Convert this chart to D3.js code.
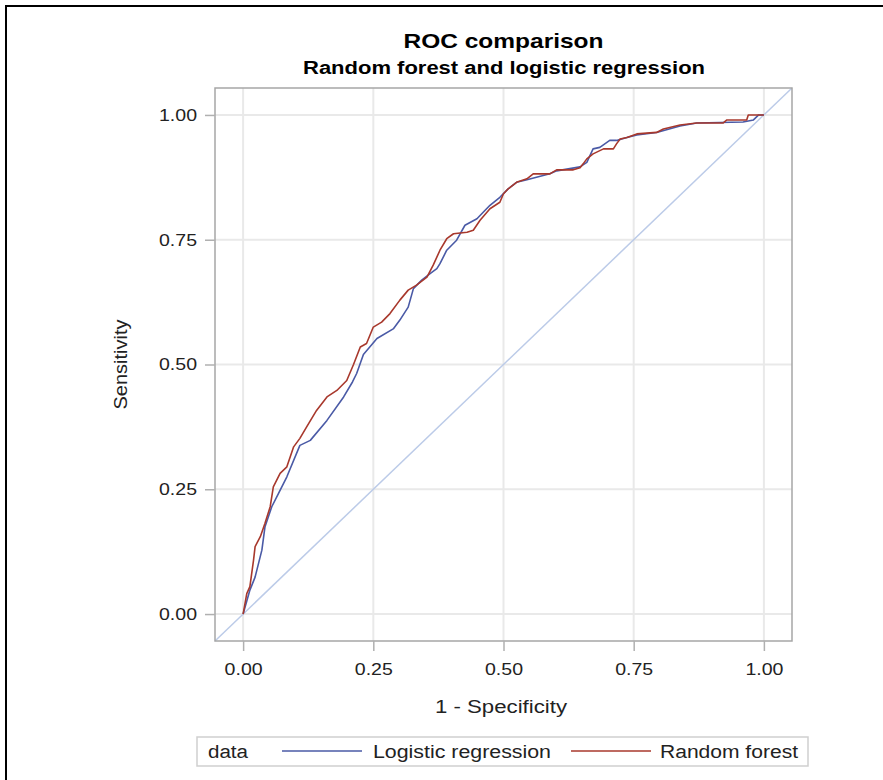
<!DOCTYPE html>
<html>
<head>
<meta charset="utf-8">
<script src="https://cdn.jsdelivr.net/npm/d3@7"></script>
<style>
  html, body { margin: 0; padding: 0; background: #fff; }
  svg { display: block; font-family: "Liberation Sans", Arial, sans-serif; }
</style>
</head>
<body>
<svg id="chart" width="883" height="780"></svg>
<script>
// ---- data ----
const titleText = "ROC comparison";
const subtitleText = "Random forest and logistic regression";
const xLabel = "1 - Specificity";
const yLabel = "Sensitivity";
const tickValues = [0, 0.25, 0.5, 0.75, 1];
const seriesNames = ["Logistic regression", "Random forest"];
const legendTitle = "data";

const logisticFpr = [0, .013, .023, .036, .042, .055, .068, .084, .109, .129, .161, .193, .21, .218, .231, .257, .289, .301, .317, .327, .343, .359, .372, .378, .391, .410, .426, .449, .461, .474, .493, .509, .525, .545, .589, .602, .647, .660, .672, .685, .704, .717, .737, .756, .794, .839, .871, .96, .98, .99, 1];
const logisticTpr = [0, .048, .074, .128, .175, .215, .242, .275, .338, .348, .388, .435, .465, .482, .52, .552, .572, .589, .615, .652, .669, .682, .692, .702, .729, .749, .779, .792, .805, .819, .835, .852, .865, .870, .882, .888, .896, .905, .932, .935, .949, .949, .955, .960, .965, .978, .984, .986, .99, 1, 1];

const forestFpr = [0, .007, .013, .020, .023, .033, .042, .052, .058, .071, .084, .097, .109, .122, .141, .161, .180, .199, .212, .225, .237, .250, .266, .282, .301, .317, .333, .353, .365, .378, .391, .404, .430, .442, .455, .474, .493, .500, .509, .525, .545, .557, .589, .602, .634, .647, .653, .660, .672, .692, .711, .717, .724, .737, .756, .794, .807, .839, .871, .922, .929, .967, .970, 1];
const forestTpr = [0, .041, .055, .108, .135, .155, .182, .215, .255, .282, .295, .335, .352, .375, .408, .435, .448, .468, .500, .535, .542, .575, .585, .602, .629, .649, .659, .675, .699, .729, .752, .762, .765, .769, .789, .812, .825, .842, .852, .865, .872, .882, .882, .890, .890, .894, .902, .912, .922, .932, .932, .942, .952, .955, .962, .965, .972, .980, .984, .984, .990, .990, 1, 1];

const colors = ["#4a5aa6", "#a8382c"];

// ---- layout ----
const svg = d3.select("#chart");
const plot = { left: 215, top: 88, right: 792, bottom: 641 };

// outer frame
svg.append("rect").attr("x", 6).attr("y", 6).attr("width", 900).attr("height", 800)
  .attr("fill", "none").attr("stroke", "#000").attr("stroke-width", 2);

const x = d3.scaleLinear().domain([-0.054, 1.054]).range([plot.left, plot.right]);
const y = d3.scaleLinear().domain([-0.054, 1.054]).range([plot.bottom, plot.top]);

// grid
const grid = svg.append("g");
grid.selectAll(".gx").data(tickValues).join("line")
  .attr("x1", d => x(d)).attr("x2", d => x(d))
  .attr("y1", plot.top).attr("y2", plot.bottom)
  .attr("stroke", "#e9e9e9").attr("stroke-width", 2);
grid.selectAll(".gy").data(tickValues).join("line")
  .attr("y1", d => y(d)).attr("y2", d => y(d))
  .attr("x1", plot.left).attr("x2", plot.right)
  .attr("stroke", "#e9e9e9").attr("stroke-width", 2);

// diagonal
svg.append("line")
  .attr("x1", x(-0.054)).attr("y1", y(-0.054))
  .attr("x2", x(1.054)).attr("y2", y(1.054))
  .attr("stroke", "#bccbe8").attr("stroke-width", 1.5);

// curves
const line = d3.line().x(d => x(d[0])).y(d => y(d[1]));
const series = [
  d3.zip(logisticFpr, logisticTpr),
  d3.zip(forestFpr, forestTpr)
];
series.forEach((s, i) => {
  svg.append("path").datum(s)
    .attr("d", line)
    .attr("fill", "none")
    .attr("stroke", colors[i])
    .attr("stroke-width", 1.6)
    .attr("stroke-linejoin", "round");
});

// frame
svg.append("rect")
  .attr("x", plot.left).attr("y", plot.top)
  .attr("width", plot.right - plot.left).attr("height", plot.bottom - plot.top)
  .attr("fill", "none").attr("stroke", "#a6a6a6").attr("stroke-width", 1.5);

// axes
const fmt = d3.format(".2f");
const xAxis = svg.append("g").attr("transform", `translate(0,${plot.bottom})`)
  .call(d3.axisBottom(x).tickValues(tickValues).tickFormat(fmt).tickSize(10).tickPadding(12));
const yAxis = svg.append("g").attr("transform", `translate(${plot.left},0)`)
  .call(d3.axisLeft(y).tickValues(tickValues).tickFormat(fmt).tickSize(10).tickPadding(8));
[xAxis, yAxis].forEach(a => {
  a.select(".domain").remove();
  a.selectAll(".tick line").attr("stroke", "#b0b0b0").attr("stroke-width", 1.5);
  a.selectAll(".tick text").attr("fill", "#222").style("font-size", "17px")
    .style("font-family", "'Liberation Sans', Arial, sans-serif")
    .attr("textLength", 38).attr("lengthAdjust", "spacingAndGlyphs");
});

// titles
svg.append("text").attr("x", 503.5).attr("y", 48).attr("text-anchor", "middle")
  .style("font-size", "21px").style("font-weight", "bold").attr("fill", "#000")
  .attr("textLength", 200).attr("lengthAdjust", "spacingAndGlyphs")
  .text(titleText);
svg.append("text").attr("x", 504).attr("y", 74).attr("text-anchor", "middle")
  .style("font-size", "18px").style("font-weight", "bold").attr("fill", "#000")
  .attr("textLength", 402).attr("lengthAdjust", "spacingAndGlyphs")
  .text(subtitleText);

// axis labels
svg.append("text").attr("x", 501).attr("y", 713).attr("text-anchor", "middle")
  .style("font-size", "18px").attr("fill", "#222")
  .attr("textLength", 132).attr("lengthAdjust", "spacingAndGlyphs").text(xLabel);
svg.append("text").attr("transform", `translate(127,${(plot.top + plot.bottom) / 2}) rotate(-90)`)
  .attr("text-anchor", "middle")
  .style("font-size", "18px").attr("fill", "#222")
  .attr("textLength", 90).attr("lengthAdjust", "spacingAndGlyphs").text(yLabel);

// legend
const lg = svg.append("g");
lg.append("rect").attr("x", 197).attr("y", 737).attr("width", 611).attr("height", 29)
  .attr("fill", "#fff").attr("stroke", "#cfcfcf").attr("stroke-width", 1.5);
lg.append("text").attr("x", 208).attr("y", 758).style("font-size", "18px").attr("fill", "#222")
  .attr("textLength", 40).attr("lengthAdjust", "spacingAndGlyphs").text(legendTitle);
const legendItems = [
  { x1: 282, x2: 362, tx: 373, w: 178 },
  { x1: 571, x2: 651, tx: 660, w: 138 }
];
legendItems.forEach((it, i) => {
  lg.append("line").attr("x1", it.x1).attr("x2", it.x2).attr("y1", 751).attr("y2", 751)
    .attr("stroke", colors[i]).attr("stroke-width", 1.6);
  lg.append("text").attr("x", it.tx).attr("y", 758).style("font-size", "18px").attr("fill", "#222")
    .attr("textLength", it.w).attr("lengthAdjust", "spacingAndGlyphs")
    .text(seriesNames[i]);
});
</script>
</body>
</html>
